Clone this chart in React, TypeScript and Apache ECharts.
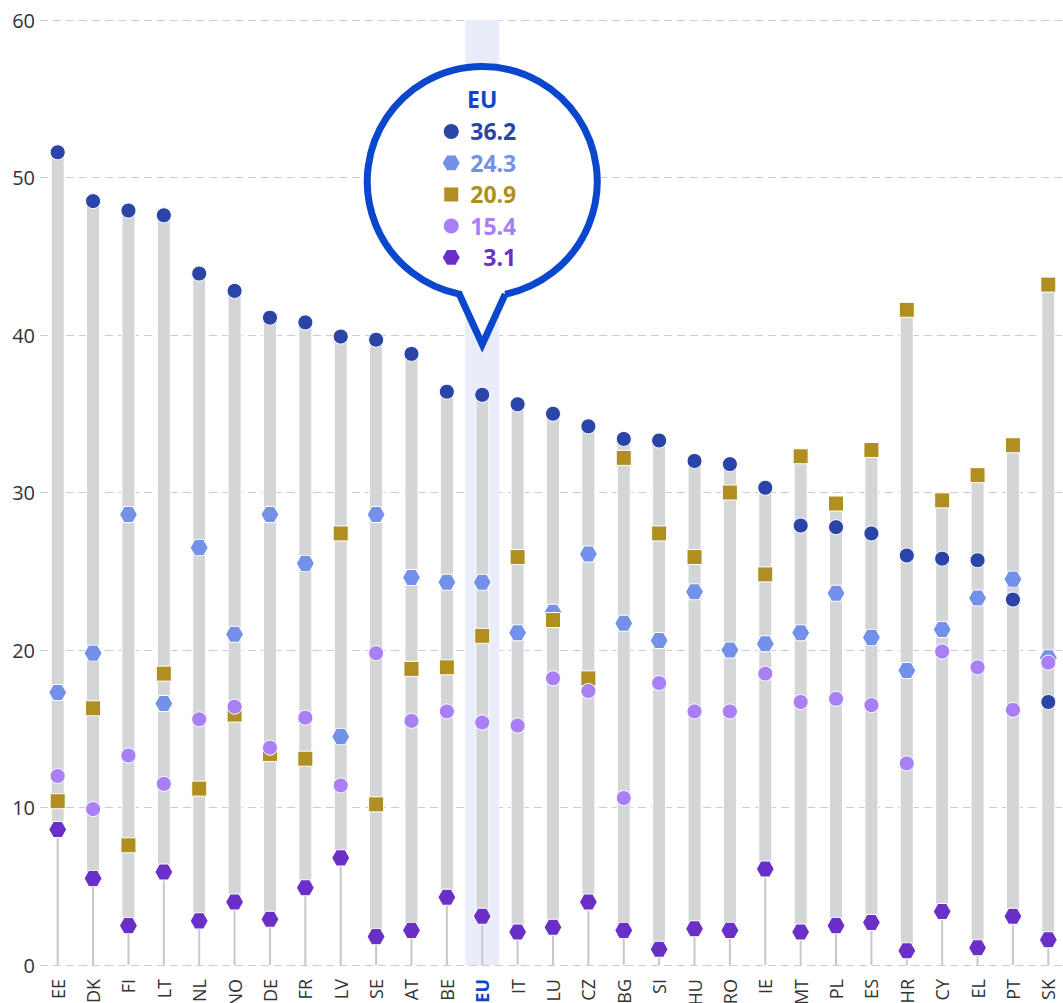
import React, { useEffect, useRef } from "react";
import * as echarts from "echarts";

const categories = ["EE","DK","FI","LT","NL","NO","DE","FR","LV","SE","AT","BE","EU","IT","LU","CZ","BG","SI","HU","RO","IE","MT","PL","ES","HR","CY","EL","PT","SK"];

const darkCircle = [51.6,48.5,47.9,47.6,43.9,42.8,41.1,40.8,39.9,39.7,38.8,36.4,36.2,35.6,35.0,34.2,33.4,33.3,32.0,31.8,30.3,27.9,27.8,27.4,26.0,25.8,25.7,23.2,16.7];
const lightHex = [17.3,19.8,28.6,16.6,26.5,21.0,28.6,25.5,14.5,28.6,24.6,24.3,24.3,21.1,22.4,26.1,21.7,20.6,23.7,20.0,20.4,21.1,23.6,20.8,18.7,21.3,23.3,24.5,19.5];
const goldSquare = [10.4,16.3,7.6,18.5,11.2,15.9,13.4,13.1,27.4,10.2,18.8,18.9,20.9,25.9,21.9,18.2,32.2,27.4,25.9,30.0,24.8,32.3,29.3,32.7,41.6,29.5,31.1,33.0,43.2];
const lightPurpleCircle = [12.0,9.9,13.3,11.5,15.6,16.4,13.8,15.7,11.4,19.8,15.5,16.1,15.4,15.2,18.2,17.4,10.6,17.9,16.1,16.1,18.5,16.7,16.9,16.5,12.8,19.9,18.9,16.2,19.2];
const purpleHex = [8.6,5.5,2.5,5.9,2.8,4.0,2.9,4.9,6.8,1.8,2.2,4.3,3.1,2.1,2.4,4.0,2.2,1.0,2.3,2.2,6.1,2.1,2.5,2.7,0.9,3.4,1.1,3.1,1.6];

const highlighted = "EU";
const yTicks = { min: 0, max: 60, interval: 10 };

const C_DARK = "#2a44a8";
const C_LHEX = "#7391e8";
const C_GOLD = "#b08f20";
const C_LPUR = "#a87ff5";
const C_PUR = "#6a2fc6";
const C_ACCENT = "#0b47cc";

const HEX = "path://M0,0.866L0.5,0L1.5,0L2,0.866L1.5,1.732L0.5,1.732Z";

const seriesDefs = [
  { name: "Series 1", data: darkCircle, symbol: "circle", size: 15, color: C_DARK },
  { name: "Series 2", data: lightHex, symbol: HEX, size: [18, 16], color: C_LHEX },
  { name: "Series 3", data: goldSquare, symbol: "rect", size: 15, color: C_GOLD },
  { name: "Series 4", data: lightPurpleCircle, symbol: "circle", size: 15, color: C_LPUR },
  { name: "Series 5", data: purpleHex, symbol: HEX, size: [18, 16], color: C_PUR },
];

echarts.graphic.registerShape(
  "bubble",
  echarts.graphic.extendPath("M23,112.7L0,163L-23,112.7A115,115 0 1 1 23,112.7Z", {})
);

export default function App() {
  const ref = useRef<HTMLDivElement>(null);
  useEffect(() => {
    if (!ref.current) return;
    const chart = echarts.init(ref.current, null, { renderer: "svg" });
    const ranges = categories.map((c, i) => {
      const vals = seriesDefs.map((s) => s.data[i]);
      return [i, Math.min(...vals), Math.max(...vals)];
    });
    const hiIdx = categories.indexOf(highlighted);
    const option: any = {
      animation: false,
      textStyle: { fontFamily: "Open Sans" },
      tooltip: { show: false },
      grid: { left: 40, right: 0, top: 20, bottom: 38, containLabel: false, outerBoundsMode: "none" },
      xAxis: {
        type: "category",
        data: categories,
        axisLine: { show: false },
        axisTick: { show: false },
        axisLabel: {
          rotate: 90,
          margin: 14,
          fontSize: 18,
          color: "#333",
          interval: 0,
          formatter: (v: string) => (v === highlighted ? `{hl|${v}}` : v),
          rich: { hl: { color: C_ACCENT, fontWeight: "bold", fontSize: 18 } },
        },
      },
      yAxis: {
        type: "value",
        min: yTicks.min,
        max: yTicks.max,
        interval: yTicks.interval,
        axisLine: { show: false },
        axisTick: { show: false },
        axisLabel: { fontSize: 20, color: "#333", margin: 5 },
        splitLine: { lineStyle: { color: "#cccccc", type: [8, 5], width: 1 } },
      },
      series: [
        {
          type: "custom",
          name: "highlight",
          z: 1,
          silent: true,
          data: [[hiIdx]],
          renderItem: (params: any, api: any) => {
            const x = api.value(0);
            const top = api.coord([x, yTicks.max]);
            const bot = api.coord([x, yTicks.min]);
            const w = api.size([1, 0])[0] * 0.96;
            return {
              type: "rect",
              shape: { x: top[0] - w / 2, y: top[1], width: w, height: bot[1] - top[1] },
              style: { fill: "#e9edf9" },
            };
          },
        },
        {
          type: "custom",
          name: "range",
          z: 2,
          silent: true,
          data: ranges,
          renderItem: (params: any, api: any) => {
            const x = api.value(0);
            const lo = api.value(1);
            const hi = api.value(2);
            const p0 = api.coord([x, 0]);
            const pl = api.coord([x, lo]);
            const ph = api.coord([x, hi]);
            const bw = 13;
            return {
              type: "group",
              children: [
                {
                  type: "line",
                  shape: { x1: p0[0], y1: p0[1], x2: pl[0], y2: pl[1] },
                  style: { stroke: "#c8c8c8", lineWidth: 2 },
                },
                {
                  type: "rect",
                  shape: { x: ph[0] - bw / 2, y: ph[1], width: bw, height: pl[1] - ph[1] },
                  style: { fill: "#d4d5d7", stroke: "#ffffff", lineWidth: 1 },
                },
              ],
            };
          },
        },
        ...seriesDefs.map((s, k) => ({
          type: "scatter",
          name: s.name,
          z: 3 + k,
          symbol: s.symbol,
          symbolSize: s.size,
          symbolKeepAspect: false,
          itemStyle: { color: s.color, borderColor: "#ffffff", borderWidth: 1, opacity: 1 },
          data: s.data.map((v, i) => [categories[i], v]),
        })),
      ],
    };
    chart.setOption(option);

    const tip = chart.convertToPixel({ xAxisIndex: 0, yAxisIndex: 0 }, [highlighted, 39.4]) as number[];
    const cx = tip[0];
    const cy = tip[1] - 163;
    const rows = seriesDefs.map((s) => ({ color: s.color, symbol: s.symbol, v: s.data[hiIdx] }));
    const rowY0 = cy - 50;
    const rowStep = 31.5;
    const mx = cx - 31;
    const tx = cx + 34;
    const Z = 100;
    const children: any[] = [
      {
        type: "bubble",
        x: cx,
        y: cy,
        z: Z,
        style: { fill: "#ffffff", stroke: C_ACCENT, lineWidth: 7, lineJoin: "miter" },
      },
      {
        type: "text",
        x: cx,
        y: cy - 82,
        z: Z + 1,
        style: {
          text: highlighted,
          fill: C_ACCENT,
          fontSize: 23,
          fontWeight: "bold",
          fontFamily: "Open Sans",
          textAlign: "center",
          textVerticalAlign: "middle",
        },
      },
    ];
    rows.forEach((r, k) => {
      const y = rowY0 + k * rowStep;
      let marker: any;
      if (r.symbol === "circle") {
        marker = { type: "circle", z: Z + 1, shape: { cx: mx, cy: y, r: 7.5 }, style: { fill: r.color } };
      } else if (r.symbol === "rect") {
        marker = { type: "rect", z: Z + 1, shape: { x: mx - 7, y: y - 7, width: 14, height: 14 }, style: { fill: r.color } };
      } else {
        const rx = 8.5, ry = 7.4;
        marker = {
          type: "polygon",
          z: Z + 1,
          shape: {
            points: [
              [mx - rx, y], [mx - rx / 2, y - ry], [mx + rx / 2, y - ry],
              [mx + rx, y], [mx + rx / 2, y + ry], [mx - rx / 2, y + ry],
            ],
          },
          style: { fill: r.color },
        };
      }
      children.push(marker);
      children.push({
        type: "text",
        x: tx,
        y: y,
        z: Z + 1,
        style: {
          text: r.v.toFixed(1),
          fill: r.color,
          fontSize: 23,
          fontWeight: "bold",
          fontFamily: "Open Sans",
          textAlign: "right",
          textVerticalAlign: "middle",
        },
      });
    });
    chart.setOption({ graphic: children });

    return () => chart.dispose();
  }, []);
  return (
    <div style={{ position: "fixed", left: 0, top: 0, width: 1066, height: 1003, background: "#fff" }}>
      <div ref={ref} style={{ width: 1066, height: 1003 }} />
    </div>
  );
}
